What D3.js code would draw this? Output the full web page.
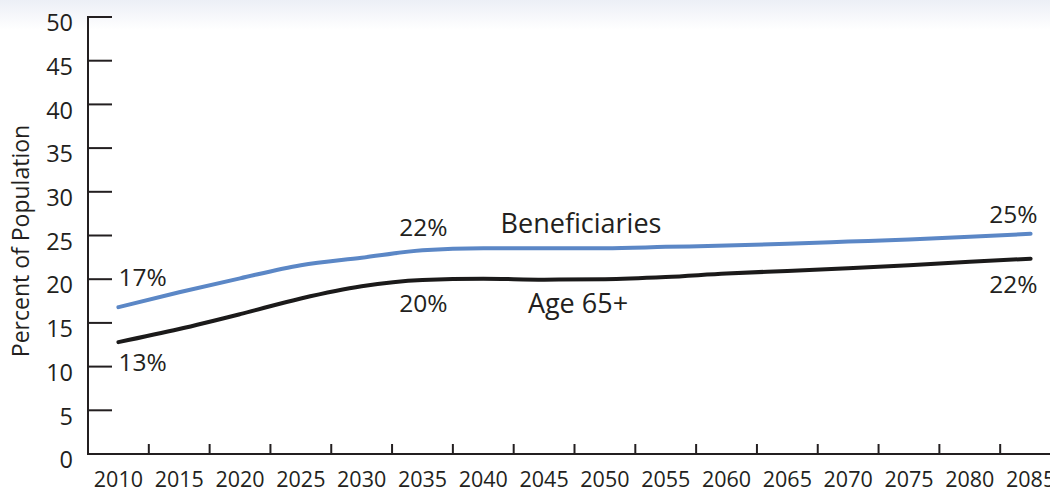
<!DOCTYPE html>
<html>
<head>
<meta charset="utf-8">
<script src="https://cdn.jsdelivr.net/npm/d3@7"></script>
<style>
  html, body { margin: 0; padding: 0; background: #fff; }
  svg { display: block; }
  text { font-family: "Open Sans", "Noto Sans", sans-serif; fill: #231f20; }
</style>
</head>
<body>
<svg id="chart" width="1050" height="493"></svg>
<script>
// Projected shares of the population, every five years
const years = [2010, 2015, 2020, 2025, 2030, 2035, 2040, 2045, 2050, 2055, 2060, 2065, 2070, 2075, 2080, 2085];
const beneficiaries = [16.8, 18.5, 20.1, 21.6, 22.45, 23.3, 23.55, 23.55, 23.55, 23.7, 23.85, 24.05, 24.3, 24.55, 24.85, 25.2];
const age65 = [12.8, 14.3, 16.0, 17.8, 19.2, 19.9, 20.05, 19.95, 20.0, 20.25, 20.65, 20.95, 21.25, 21.6, 22.0, 22.35];
const yTicks = [0, 5, 10, 15, 20, 25, 30, 35, 40, 45, 50];

const svg = d3.select("#chart");
const W = 1050, H = 493;

// soft band across the top
const defs = svg.append("defs");
const grad = defs.append("linearGradient").attr("id", "topBand")
  .attr("x1", 0).attr("y1", 0).attr("x2", 0).attr("y2", 1);
grad.append("stop").attr("offset", "0%").attr("stop-color", "#eceff6");
grad.append("stop").attr("offset", "100%").attr("stop-color", "#ffffff");
svg.append("rect").attr("x", 0).attr("y", 0).attr("width", W).attr("height", 30)
  .attr("fill", "url(#topBand)");

const x = d3.scaleBand().domain(years).range([88, 1061]).padding(0);
const y = d3.scaleLinear().domain([0, 50]).range([454, 17]);
const cx = d => x(d) + x.bandwidth() / 2;

const axisColor = "#231f20";

// y axis: line, ticks extending into the plot, labels to the left
svg.append("line").attr("x1", 88).attr("x2", 88).attr("y1", y(50) - 1).attr("y2", y(0) + 1)
  .attr("stroke", axisColor).attr("stroke-width", 2);
const yg = svg.append("g");
yg.selectAll("line").data(yTicks.filter(d => d > 0)).join("line")
  .attr("x1", 88).attr("x2", 112).attr("y1", d => y(d)).attr("y2", d => y(d))
  .attr("stroke", axisColor).attr("stroke-width", 2);
yg.selectAll("text").data(yTicks).join("text")
  .attr("x", 73).attr("y", d => y(d) + 8)
  .attr("text-anchor", "end").attr("dominant-baseline", "middle")
  .attr("font-size", 23.5).text(d => d);

// x axis: baseline, ticks at band edges, year labels centred in bands
svg.append("line").attr("x1", 87).attr("x2", W).attr("y1", y(0)).attr("y2", y(0))
  .attr("stroke", axisColor).attr("stroke-width", 2);
const xg = svg.append("g");
xg.selectAll("line").data(years.slice(1)).join("line")
  .attr("x1", d => x(d)).attr("x2", d => x(d)).attr("y1", y(0)).attr("y2", y(0) - 10)
  .attr("stroke", axisColor).attr("stroke-width", 2);
xg.selectAll("text").data(years).join("text")
  .attr("x", d => cx(d)).attr("y", 487)
  .attr("text-anchor", "middle").attr("font-size", 21.5).text(d => d);

// axis title
svg.append("text").attr("transform", "translate(29,241) rotate(-90)")
  .attr("text-anchor", "middle").attr("font-size", 23).text("Percent of Population");

// series lines
const line = d3.line().x((d, i) => cx(years[i])).y(d => y(d)).curve(d3.curveMonotoneX);
svg.append("path").datum(beneficiaries).attr("d", line)
  .attr("fill", "none").attr("stroke", "#5b87c6").attr("stroke-width", 4).attr("stroke-linecap", "round");
svg.append("path").datum(age65).attr("d", line)
  .attr("fill", "none").attr("stroke", "#1b1a1a").attr("stroke-width", 4).attr("stroke-linecap", "round");

// value and series labels
const fmt = v => Math.round(v) + "%";
const last = years.length - 1;
const labels = [
  { t: fmt(beneficiaries[0]), x: cx(years[0]), y: y(beneficiaries[0]) - 21, a: "start", s: 24.5 },
  { t: fmt(age65[0]), x: cx(years[0]), y: y(age65[0]) + 29, a: "start", s: 24.5 },
  { t: fmt(beneficiaries[4]), x: cx(2035) + 1, y: y(beneficiaries[4]) - 22, a: "middle", s: 24.5 },
  { t: fmt(age65[5]), x: cx(2035) + 1, y: y(age65[5]) + 32, a: "middle", s: 24.5 },
  { t: "Beneficiaries", x: 581, y: y(beneficiaries[7]) - 15, a: "middle", s: 27 },
  { t: "Age 65+", x: 578, y: y(age65[7]) + 33, a: "middle", s: 27 },
  { t: fmt(beneficiaries[last]), x: cx(years[last]) + 7, y: y(beneficiaries[last]) - 11, a: "end", s: 24.5 },
  { t: fmt(age65[last]), x: cx(years[last]) + 7, y: y(age65[last]) + 34, a: "end", s: 24.5 }
];
svg.append("g").selectAll("text").data(labels).join("text")
  .attr("x", d => d.x).attr("y", d => d.y).attr("text-anchor", d => d.a)
  .attr("font-size", d => d.s).text(d => d.t);
</script>
</body>
</html>
